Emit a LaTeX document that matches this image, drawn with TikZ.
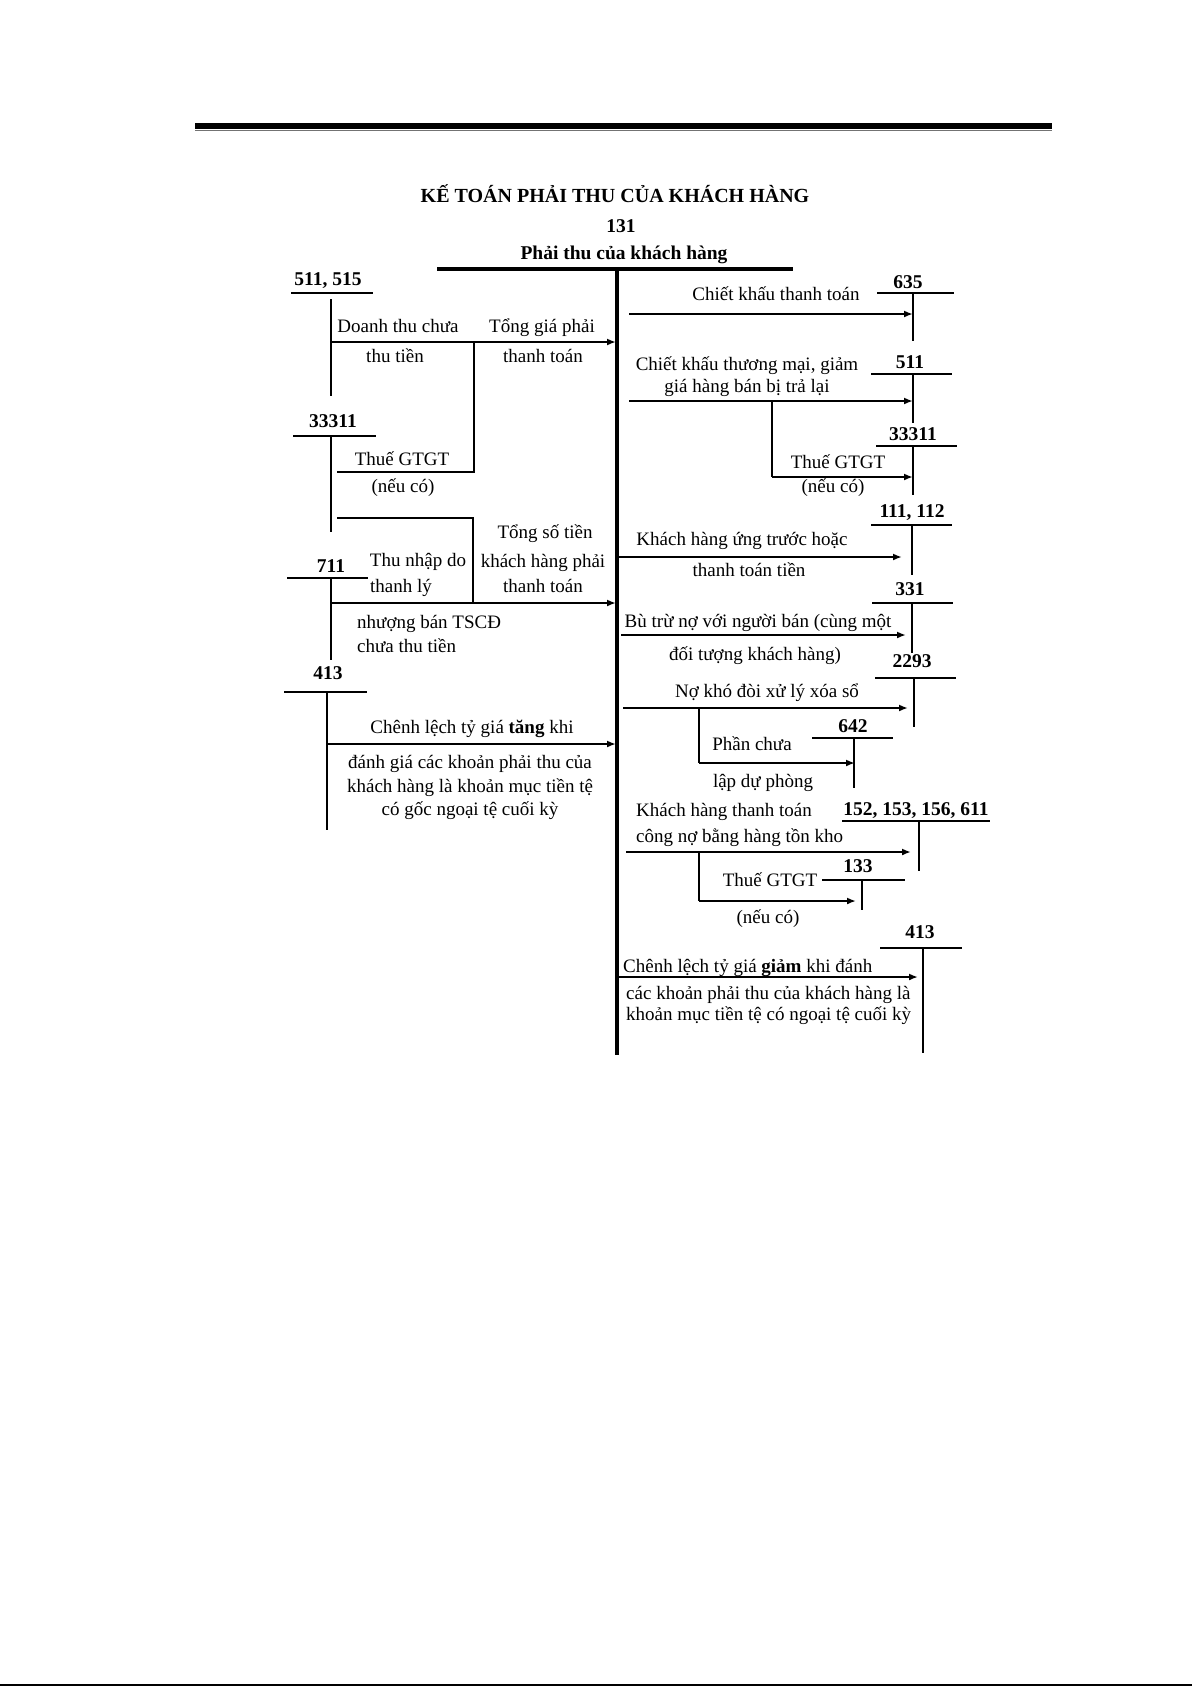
\documentclass[tikz,border=0pt]{standalone}
\usepackage{fontspec}
\setmainfont{Liberation Serif}
\usetikzlibrary{arrows.meta}
\begin{document}
\begin{tikzpicture}[x=1pt,y=-1pt,
  txt/.style={font=\fontsize{19}{23}\selectfont, inner sep=0pt, text height=14pt, text depth=4pt},
  txtl/.style={txt, anchor=west},
  num/.style={font=\fontsize{19.5}{23}\selectfont\bfseries, inner sep=0pt, text height=14pt, text depth=4pt},
  acct/.style={line width=2pt},
  mainacct/.style={line width=3.2pt},
  arr/.style={line width=1.8pt, -{Latex[length=9pt,width=7pt]}},
  link/.style={line width=1.8pt}]
\useasboundingbox (0,0) rectangle (1192,1686);
\fill[white] (0,0) rectangle (1192,1686);

% header rule
\fill[black] (195,123) rectangle (1052,128.5);
\draw[line width=1.3pt, black!55] (195,130.8) -- (1052,130.8);
% bottom page line
\draw[line width=2pt] (0,1685) -- (1192,1685);

% title
\node[num, font=\fontsize{20}{24}\selectfont\bfseries] (title) at (615,197) {KẾ TOÁN PHẢI THU CỦA KHÁCH HÀNG};
\node[num] (n131) at (621,227) {131};
\node[num] (name131) at (624,254) {Phải thu của khách hàng};

% main T account
\coordinate (mL) at (437,269); \coordinate (mR) at (793,269);
\coordinate (mTop) at (617,269); \coordinate (mBot) at (617,1055);
\draw[mainacct] (mL) -- (mR);
\draw[mainacct] (mTop) -- (mBot);

% ---------------- LEFT SIDE ----------------
% 511, 515
\node[num] (t511l) at (328,280) {511, 515};
\coordinate (u511a) at (291,293); \coordinate (u511b) at (373,293);
\coordinate (v511a) at (331,299); \coordinate (v511b) at (331,396);
\draw[acct] (u511a) -- (u511b); \draw[acct] (v511a) -- (v511b);
\coordinate (a1s) at (331,342); \coordinate (a1e) at (616,342);
\draw[arr] (a1s) -- (a1e);
\node[txt] (l1a) at (398,327) {Doanh thu chưa};
\node[txt] (l1b) at (395,357) {thu tiền};
\node[txt] (l1c) at (542,327) {Tổng giá phải};
\node[txt] (l1d) at (543,357) {thanh toán};
\coordinate (b1t) at (474,342); \coordinate (b1b) at (474,472); \coordinate (b1l) at (337,472);
\draw[link] (b1t) -- (b1b) -- (b1l);

% 33311 left
\node[num] (t33311l) at (333,422) {33311};
\coordinate (u333a) at (293,436); \coordinate (u333b) at (376,436);
\coordinate (v333a) at (331,436); \coordinate (v333b) at (331,532);
\draw[acct] (u333a) -- (u333b); \draw[acct] (v333a) -- (v333b);
\node[txt] (l2a) at (402,460) {Thuế GTGT};
\node[txt] (l2b) at (403,487) {(nếu có)};

% 711
\coordinate (b2l) at (337,518); \coordinate (b2r) at (473,518); \coordinate (b2b) at (473,603);
\draw[link] (b2l) -- (b2r) -- (b2b);
\node[num] (t711) at (331,567) {711};
\coordinate (u711a) at (287,578); \coordinate (u711b) at (368,578);
\coordinate (v711a) at (331,578); \coordinate (v711b) at (331,660);
\draw[acct] (u711a) -- (u711b); \draw[acct] (v711a) -- (v711b);
\coordinate (a2s) at (331,603); \coordinate (a2e) at (616,603);
\draw[arr] (a2s) -- (a2e);
\node[txt] (l3a) at (418,561) {Thu nhập do};
\node[txtl] (l3b) at (370,587) {thanh lý};
\node[txtl] (l3c) at (357,623) {nhượng bán TSCĐ};
\node[txtl] (l3d) at (357,647) {chưa thu tiền};
\node[txt] (l3e) at (545,533) {Tổng số tiền};
\node[txt] (l3f) at (543,562) {khách hàng phải};
\node[txt] (l3g) at (543,587) {thanh toán};

% 413 left
\node[num] (t413l) at (328,674) {413};
\coordinate (u413a) at (284,692); \coordinate (u413b) at (367,692);
\coordinate (v413a) at (327,692); \coordinate (v413b) at (327,830);
\draw[acct] (u413a) -- (u413b); \draw[acct] (v413a) -- (v413b);
\coordinate (a3s) at (327,744); \coordinate (a3e) at (616,744);
\draw[arr] (a3s) -- (a3e);
\node[txt] (l4a) at (472,728) {Chênh lệch tỷ giá \textbf{tăng} khi};
\node[txt] (l4b) at (470,763) {đánh giá các khoản phải thu của};
\node[txt] (l4c) at (470,787) {khách hàng là khoản mục tiền tệ};
\node[txt] (l4d) at (470,810) {có gốc ngoại tệ cuối kỳ};

% ---------------- RIGHT SIDE ----------------
% 635
\node[num] (t635) at (908,283) {635};
\coordinate (u635a) at (877,293); \coordinate (u635b) at (954,293);
\coordinate (v635a) at (913,293); \coordinate (v635b) at (913,341);
\draw[acct] (u635a) -- (u635b); \draw[acct] (v635a) -- (v635b);
\node[txt] (r1a) at (776,295) {Chiết khấu thanh toán};
\coordinate (r1s) at (629,314); \coordinate (r1e) at (913,314);
\draw[arr] (r1s) -- (r1e);

% 511
\node[num] (t511r) at (910,363) {511};
\coordinate (u511ra) at (871,374); \coordinate (u511rb) at (952,374);
\coordinate (v511ra) at (913,374); \coordinate (v511rb) at (913,423);
\draw[acct] (u511ra) -- (u511rb); \draw[acct] (v511ra) -- (v511rb);
\node[txt] (r2a) at (747,365) {Chiết khấu thương mại, giảm};
\node[txt] (r2b) at (747,387) {giá hàng bán bị trả lại};
\coordinate (r2s) at (629,401); \coordinate (r2e) at (913,401);
\draw[arr] (r2s) -- (r2e);
\coordinate (rb1t) at (772,401); \coordinate (rb1b) at (772,477); \coordinate (rb1e) at (913,477);
\draw[link] (rb1t) -- (rb1b);
\draw[arr] (rb1b) -- (rb1e);

% 33311 right
\node[num] (t33311r) at (913,435) {33311};
\coordinate (u333ra) at (876,446); \coordinate (u333rb) at (957,446);
\coordinate (v333ra) at (913,446); \coordinate (v333rb) at (913,495);
\draw[acct] (u333ra) -- (u333rb); \draw[acct] (v333ra) -- (v333rb);
\node[txt] (r3a) at (838,463) {Thuế GTGT};
\node[txt] (r3b) at (833,487) {(nếu có)};

% 111, 112
\node[num] (t111) at (912,512) {111, 112};
\coordinate (u111a) at (871,525); \coordinate (u111b) at (952,525);
\coordinate (v111a) at (912,525); \coordinate (v111b) at (912,575);
\draw[acct] (u111a) -- (u111b); \draw[acct] (v111a) -- (v111b);
\node[txt] (r4a) at (742,540) {Khách hàng ứng trước hoặc};
\node[txt] (r4b) at (749,571) {thanh toán tiền};
\coordinate (r4s) at (618,557); \coordinate (r4e) at (902,557);
\draw[arr] (r4s) -- (r4e);

% 331
\node[num] (t331) at (910,590) {331};
\coordinate (u331a) at (872,603); \coordinate (u331b) at (953,603);
\coordinate (v331a) at (912,603); \coordinate (v331b) at (912,653);
\draw[acct] (u331a) -- (u331b); \draw[acct] (v331a) -- (v331b);
\node[txt] (r5a) at (758,622) {Bù trừ nợ với người bán (cùng một};
\node[txt] (r5b) at (755,655) {đối tượng khách hàng)};
\coordinate (r5s) at (621,635); \coordinate (r5e) at (906,635);
\draw[arr] (r5s) -- (r5e);

% 2293
\node[num] (t2293) at (912,662) {2293};
\coordinate (u2293a) at (875,678); \coordinate (u2293b) at (956,678);
\coordinate (v2293a) at (914,678); \coordinate (v2293b) at (914,727);
\draw[acct] (u2293a) -- (u2293b); \draw[acct] (v2293a) -- (v2293b);
\node[txt] (r6a) at (767,692) {Nợ khó đòi xử lý xóa sổ};
\coordinate (r6s) at (623,708); \coordinate (r6e) at (908,708);
\draw[arr] (r6s) -- (r6e);
\coordinate (rb2t) at (699,708); \coordinate (rb2b) at (699,763); \coordinate (rb2e) at (855,763);
\draw[link] (rb2t) -- (rb2b);
\draw[arr] (rb2b) -- (rb2e);

% 642
\node[num] (t642) at (853,727) {642};
\coordinate (u642a) at (812,738); \coordinate (u642b) at (893,738);
\coordinate (v642a) at (854,738); \coordinate (v642b) at (854,788);
\draw[acct] (u642a) -- (u642b); \draw[acct] (v642a) -- (v642b);
\node[txt] (r7a) at (752,745) {Phần chưa};
\node[txt] (r7b) at (763,782) {lập dự phòng};

% 152, 153, 156, 611
\node[txtl] (r8a) at (636,811) {Khách hàng thanh toán};
\node[txtl] (r8b) at (636,837) {công nợ bằng hàng tồn kho};
\node[num] (t152) at (916,810) {152, 153, 156, 611};
\coordinate (u152a) at (842,821); \coordinate (u152b) at (990,821);
\coordinate (v152a) at (919,821); \coordinate (v152b) at (919,871);
\draw[acct] (u152a) -- (u152b); \draw[acct] (v152a) -- (v152b);
\coordinate (r8s) at (626,852); \coordinate (r8e) at (911,852);
\draw[arr] (r8s) -- (r8e);
\coordinate (rb3t) at (699,852); \coordinate (rb3b) at (699,901); \coordinate (rb3e) at (856,901);
\draw[link] (rb3t) -- (rb3b);
\draw[arr] (rb3b) -- (rb3e);

% 133
\node[num] (t133) at (858,867) {133};
\coordinate (u133a) at (822,880); \coordinate (u133b) at (905,880);
\coordinate (v133a) at (862,880); \coordinate (v133b) at (862,910);
\draw[acct] (u133a) -- (u133b); \draw[acct] (v133a) -- (v133b);
\node[txt] (r9a) at (770,881) {Thuế GTGT};
\node[txt] (r9b) at (768,918) {(nếu có)};

% 413 right
\node[num] (t413r) at (920,933) {413};
\coordinate (u413ra) at (880,948); \coordinate (u413rb) at (962,948);
\coordinate (v413ra) at (923,948); \coordinate (v413rb) at (923,1053);
\draw[acct] (u413ra) -- (u413rb); \draw[acct] (v413ra) -- (v413rb);
\node[txtl] (r10a) at (623,967) {Chênh lệch tỷ giá \textbf{giảm} khi đánh};
\coordinate (r10s) at (617,977); \coordinate (r10e) at (918,977);
\draw[arr] (r10s) -- (r10e);
\node[txtl] (r10b) at (626,994) {các khoản phải thu của khách hàng là};
\node[txtl] (r10c) at (626,1015) {khoản mục tiền tệ có ngoại tệ cuối kỳ};
\end{tikzpicture}
\end{document}
